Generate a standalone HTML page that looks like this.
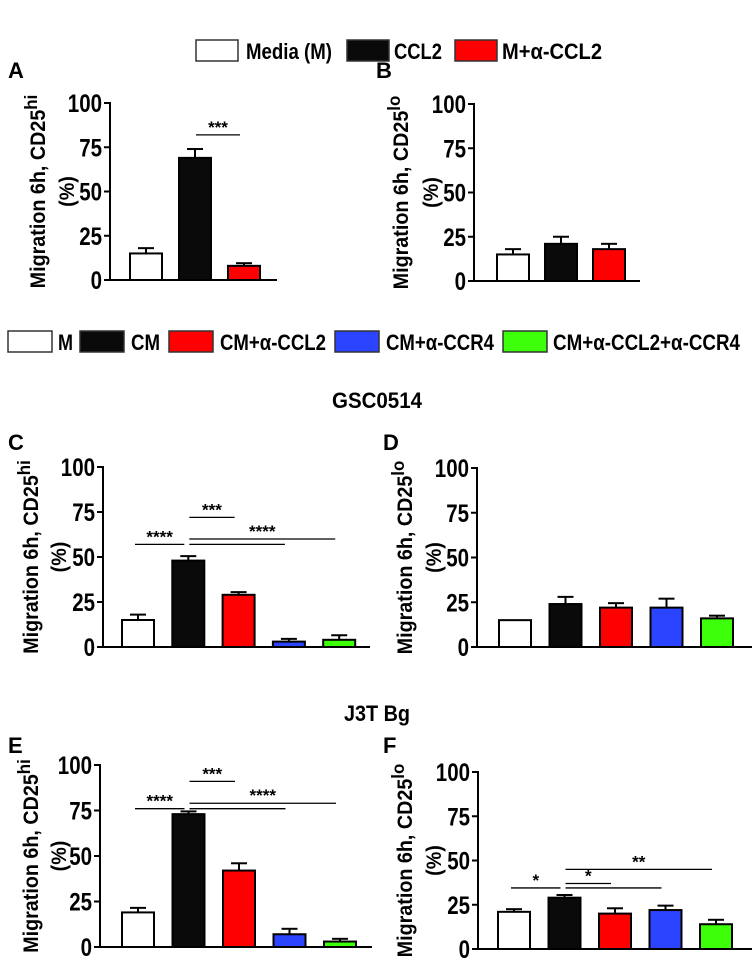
<!DOCTYPE html>
<html><head><meta charset="utf-8"><style>
html,body{margin:0;padding:0;background:#fff;}
svg{display:block;font-family:"Liberation Sans",sans-serif;font-weight:bold;}
</style></head><body>
<svg id="fig" width="754" height="960" viewBox="0 0 754 960" xmlns="http://www.w3.org/2000/svg">
<g font-size="22">
<rect x="196" y="40" width="42" height="21" fill="#fff" stroke="#333" stroke-width="1.5"/>
<text x="246" y="59" textLength="86" lengthAdjust="spacingAndGlyphs">Media (M)</text>
<rect x="347" y="40" width="42" height="21" fill="#0a0a0a" stroke="#333" stroke-width="1.5"/>
<text x="394" y="59" textLength="48" lengthAdjust="spacingAndGlyphs">CCL2</text>
<rect x="455" y="40" width="42" height="21" fill="#ff0000" stroke="#333" stroke-width="1.5"/>
<text x="502" y="59" textLength="100" lengthAdjust="spacingAndGlyphs">M+α-CCL2</text>
</g>
<g font-size="22">
<rect x="8" y="331" width="44" height="21" fill="#fff" stroke="#333" stroke-width="1.5"/>
<text x="58" y="350" textLength="15" lengthAdjust="spacingAndGlyphs">M</text>
<rect x="80" y="331" width="44" height="21" fill="#0a0a0a" stroke="#333" stroke-width="1.5"/>
<text x="131" y="350" textLength="29" lengthAdjust="spacingAndGlyphs">CM</text>
<rect x="169" y="331" width="44" height="21" fill="#ff0000" stroke="#333" stroke-width="1.5"/>
<text x="220" y="350" textLength="106" lengthAdjust="spacingAndGlyphs">CM+α-CCL2</text>
<rect x="335" y="331" width="44" height="21" fill="#2a44ff" stroke="#333" stroke-width="1.5"/>
<text x="386" y="350" textLength="108" lengthAdjust="spacingAndGlyphs">CM+α-CCR4</text>
<rect x="503" y="331" width="44" height="21" fill="#3dff0a" stroke="#333" stroke-width="1.5"/>
<text x="553" y="350" textLength="187" lengthAdjust="spacingAndGlyphs">CM+α-CCL2+α-CCR4</text>
</g>
<text x="332" y="408" textLength="90" lengthAdjust="spacingAndGlyphs" font-size="22">GSC0514</text>
<text x="344" y="721" textLength="66" lengthAdjust="spacingAndGlyphs" font-size="22">J3T Bg</text>
</svg>
<script>
const colors3 = ["#ffffff","#0a0a0a","#ff0000"];
const colors5 = ["#ffffff","#0a0a0a","#ff0000","#2a44ff","#3dff0a"];
const yTicks = [0,25,50,75,100];

const valuesA = [15,69,8];   const errA = [3,5,1.5];
const valuesB = [15,21,18];  const errB = [3,4,3];
const valuesC = [15,48,29,3,4]; const errC = [3,2.5,1.5,1.5,2.5];
const valuesD = [15,24,22,22,16]; const errD = [0,4,2.5,5,1.5];
const valuesE = [19,73,42,7,3]; const errE = [2.5,1.5,4,3,1.5];
const valuesF = [21,29,20,22,14]; const errF = [1.5,1.5,3,2.5,2.5];

const sigA = [[1,2,82,"***"]];
const sigB = [];
const sigC = [[0,1,57,"****"],[1,2,72,"***"],[1,3,57,""],[1,4,60,"****"]];
const sigD = [];
const sigE = [[0,1,76,"****"],[1,2,91,"***"],[1,3,76,""],[1,4,79,"****"]];
const sigF = [[0,1,34.5,"*"],[1,2,37,"*"],[1,3,34.5,""],[1,4,45,"**"]];

const panels = [
 {id:"a",letter:"A",lx:8,ly:78,ax:110,xEnd:277,y0:280,y100:103,pad:20,step:49,vals:valuesA,errs:errA,cols:colors3,sig:sigA,sup:"hi",tx:37,px:66},
 {id:"b",letter:"B",lx:376,ly:78,ax:474,xEnd:640,y0:281,y100:104,pad:23,step:48,vals:valuesB,errs:errB,cols:colors3,sig:sigB,sup:"lo",tx:400,px:430},
 {id:"c",letter:"C",lx:8,ly:450,ax:103,xEnd:370,y0:647,y100:467,pad:19,step:50.3,vals:valuesC,errs:errC,cols:colors5,sig:sigC,sup:"hi",tx:30,px:58},
 {id:"d",letter:"D",lx:383,ly:450,ax:477,xEnd:752,y0:647,y100:468,pad:22,step:50.5,vals:valuesD,errs:errD,cols:colors5,sig:sigD,sup:"lo",tx:404,px:433},
 {id:"e",letter:"E",lx:8,ly:753,ax:100,xEnd:372,y0:947,y100:765,pad:22,step:50.5,vals:valuesE,errs:errE,cols:colors5,sig:sigE,sup:"hi",tx:30,px:58},
 {id:"f",letter:"F",lx:383,ly:753,ax:478,xEnd:752,y0:949,y100:772,pad:20,step:50.5,vals:valuesF,errs:errF,cols:colors5,sig:sigF,sup:"lo",tx:404,px:433}
];
const NS="http://www.w3.org/2000/svg";
const svg=document.getElementById("fig");
function mk(tag,attrs,parent){const e=document.createElementNS(NS,tag);for(const k in attrs)e.setAttribute(k,attrs[k]);parent.appendChild(e);return e;}
const BW=32;
panels.forEach(p=>{
  const g=mk("g",{},svg);
  
  
  const y=v=>p.y0-(v/100)*(p.y0-p.y100);
  const bx=i=>p.ax+p.pad+i*p.step;
  const cx=i=>bx(i)+BW/2;
  const lt=mk("text",{x:p.lx,y:p.ly,"font-size":22},g);lt.textContent=p.letter;
  
  
  const ya=mk("line",{x1:p.ax,x2:p.ax,y1:p.y100-1,y2:p.y0,stroke:"#000","stroke-width":2},g);
  
  
  const xa=mk("line",{x1:p.ax-1,x2:p.xEnd,y1:p.y0,y2:p.y0,stroke:"#000","stroke-width":2},g);
  
  
  yTicks.forEach(t=>{
    mk("line",{x1:p.ax-6,x2:p.ax,y1:y(t),y2:y(t),stroke:"#000","stroke-width":2},g);
    const tl=mk("text",{x:0,y:0,"text-anchor":"end","font-size":25,transform:`translate(${p.ax-8},${y(t)+9}) scale(0.82,1)`},g);
    tl.textContent=t;
    
    
  });
  const mid=(p.y0+p.y100)/2;
  const t1=mk("text",{transform:`translate(${p.tx+8},${mid}) rotate(-90) scale(0.94,1)`,"text-anchor":"middle","font-size":21},g);
  
  
  const s1=mk("tspan",{},t1);s1.textContent="Migration 6h, CD25";
  const s2=mk("tspan",{dy:-8,"font-size":18},t1);s2.textContent=p.sup;
  const t2=mk("text",{transform:`translate(${p.px+8},${mid}) rotate(-90) scale(0.94,1)`,"text-anchor":"middle","font-size":21},g);
  t2.textContent="(%)";
  
  
  p.vals.forEach((v,i)=>{
    if(p.errs[i]>0){
      const et=y(v+p.errs[i]);
      mk("line",{x1:cx(i),x2:cx(i),y1:y(v),y2:et,stroke:"#000","stroke-width":2},g);
      const cap=mk("line",{x1:cx(i)-8,x2:cx(i)+8,y1:et,y2:et,stroke:"#000","stroke-width":2},g);
      
      
    }
    const r=mk("rect",{x:bx(i),y:y(v),width:BW,height:p.y0-y(v),fill:p.cols[i],stroke:"#000","stroke-width":2},g);
    
    
  });
  p.sig.forEach(s=>{
    const x1=cx(s[0])-3+(s[0]===1?4:0), x2=cx(s[1])-4;
    const ln=mk("line",{x1:x1,x2:x2,y1:y(s[2]),y2:y(s[2]),stroke:"#000","stroke-width":1.3},g);
    
    
    if(s[3]){
      const st=mk("text",{x:(x1+x2)/2,y:y(s[2])-2,"text-anchor":"middle","font-size":17},g);
      st.textContent=s[3];
      
      
    }
  });
});
</script>
</body></html>
